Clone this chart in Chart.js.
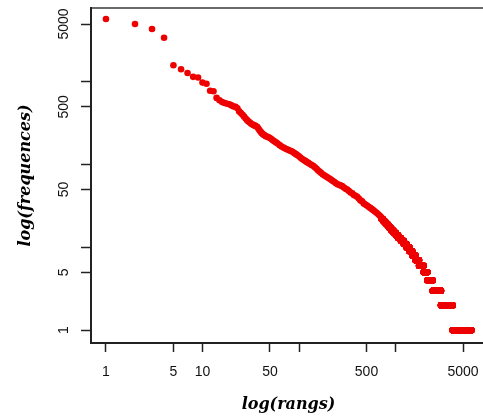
<!DOCTYPE html>
<html>
<head>
<meta charset="utf-8">
<script src="https://cdn.jsdelivr.net/npm/chart.js@4/dist/chart.umd.min.js"></script>
<style>
  html, body { margin: 0; padding: 0; background: #ffffff; overflow: hidden; }
  #wrap { position: absolute; left: 0; top: 0; width: 490px; height: 419px; }
</style>
</head>
<body>
<div id="wrap"><canvas id="c" width="490" height="419"></canvas></div>
<script>
// Head of the rank/frequency list
const headRanks = [1,2,3,4,5,6,7,8,9,10,11,12,13,14,15,16,17,18,19,20,21,22,23,24,25,26,27,28,29,30,31,32,33,34,35,36,37,38,39,40,41,42,43,44,45,46,48,50,52,54,56,58,60,63,66,69,72,75,78,81,84,87,90,93,96,100,104,108,112,116,120,125,130,135,140,146,152,158,164,170,177,184,191,198,206,214,222,231,240,250,260,270,280,292,304,316,329,342,356,370,385,400,416,433,450,468,487,506,526,547,569,592,616,640,666,692,715];
const headFreqs = [5740,5000,4350,3420,1590,1420,1280,1150,1130,980,950,780,770,640,600,570,555,545,535,520,505,500,480,440,420,400,380,360,345,332,322,312,305,300,296,291,285,272,260,250,242,235,230,226,222,219,215,210,203,196,190,185,180,172,166,161,157,153,150,147,145,141,137,134,131,126,121,117,114,111,108,105,102,99,97,93,89,85,82,79,76,74,72,70,68,66,64,62,60,58,57,56,55,53,51,50,48,46,45,43,42,41,39,37,36,34,33,32,31,30,29,28,27,26,25,24,23];

// Tail: low frequencies and how many consecutive ranks share each one
const tailFirstRank = 716;
const tailFreqs  = [22,21,20,19,18,17,16,15,14,13,12,11,10,9,8,7,6,5,4,3,2,1];
const tailCounts = [25,28,32,32,34,39,47,53,60,70,80,85,90,100,120,140,205,180,290,530,950,2195];

// Axis ticks
const xTickValues = [1,5,10,50,100,500,1000,5000];
const xTickLabels = ['1','5','10','50','','500','','5000'];
const yTickValues = [1,5,10,50,100,500,1000,5000];
const yTickLabels = ['1','5','','50','','500','','5000'];

const xTitle = 'log(rangs)';
const yTitle = 'log(frequences)';

// Build point list
const points = [];
for (let i = 0; i < headRanks.length; i++) points.push({x: headRanks[i], y: headFreqs[i]});
let r = tailFirstRank;
for (let i = 0; i < tailFreqs.length; i++) {
  for (let k = 0; k < tailCounts[i]; k++) { points.push({x: r, y: tailFreqs[i]}); r++; }
}

const tickFont = {family: "'Liberation Sans', Arial, sans-serif", size: 14};
const titleFont = {family: "'DejaVu Serif', serif", size: 16, weight: 'bold', style: 'italic'};

new Chart(document.getElementById('c'), {
  type: 'scatter',
  data: {
    datasets: [{
      data: points,
      backgroundColor: '#ee0000',
      borderWidth: 0,
      pointRadius: 3.3,
      pointHoverRadius: 3.3
    }]
  },
  options: {
    responsive: false,
    animation: false,
    events: [],
    layout: {padding: {left: 0, top: 8, right: 4, bottom: 0}},
    plugins: {legend: {display: false}, tooltip: {enabled: false}},
    scales: {
      x: {
        type: 'logarithmic',
        position: 'bottom',
        min: 0.711,
        max: 8650,
        afterBuildTicks: s => { s.ticks = xTickValues.map(v => ({value: v, major: false})); },
        afterFit: s => { s.height = 76; s.paddingLeft = 0; s.paddingRight = 0; },
        grid: {display: true, drawOnChartArea: false, drawTicks: true, tickLength: 9, tickColor: '#222', tickWidth: 1.5},
        border: {display: true, color: '#222', width: 2},
        ticks: {
          autoSkip: false, maxRotation: 0, minRotation: 0, padding: 12,
          color: '#111', font: tickFont,
          callback: (v, i) => xTickLabels[i]
        },
        title: {display: true, text: xTitle, color: '#000', font: titleFont, padding: {top: 0, bottom: 5}}
      },
      xTop: {
        type: 'linear',
        position: 'top',
        min: 0, max: 1,
        afterFit: s => { s.height = 0; s.paddingLeft = 0; s.paddingRight = 0; },
        grid: {display: false, drawTicks: false},
        border: {display: true, color: '#6a6a6a', width: 2},
        ticks: {display: false}
      },
      y: {
        type: 'logarithmic',
        position: 'left',
        min: 0.711,
        max: 7810,
        afterBuildTicks: s => { s.ticks = yTickValues.map(v => ({value: v, major: false})); },
        afterFit: s => { s.width = 91; s.paddingTop = 0; s.paddingBottom = 0; },
        grid: {display: true, drawOnChartArea: false, drawTicks: true, tickLength: 10, tickColor: '#222', tickWidth: 1.5},
        border: {display: true, color: '#222', width: 2},
        ticks: {
          autoSkip: false, minRotation: 90, maxRotation: 90, crossAlign: 'center', padding: 1.4,
          color: '#111', font: tickFont,
          callback: (v, i) => yTickLabels[i]
        },
        title: {display: true, text: yTitle, color: '#000', font: titleFont, padding: {top: 16, bottom: 0}}
      }
    }
  }
});
</script>
</body>
</html>
